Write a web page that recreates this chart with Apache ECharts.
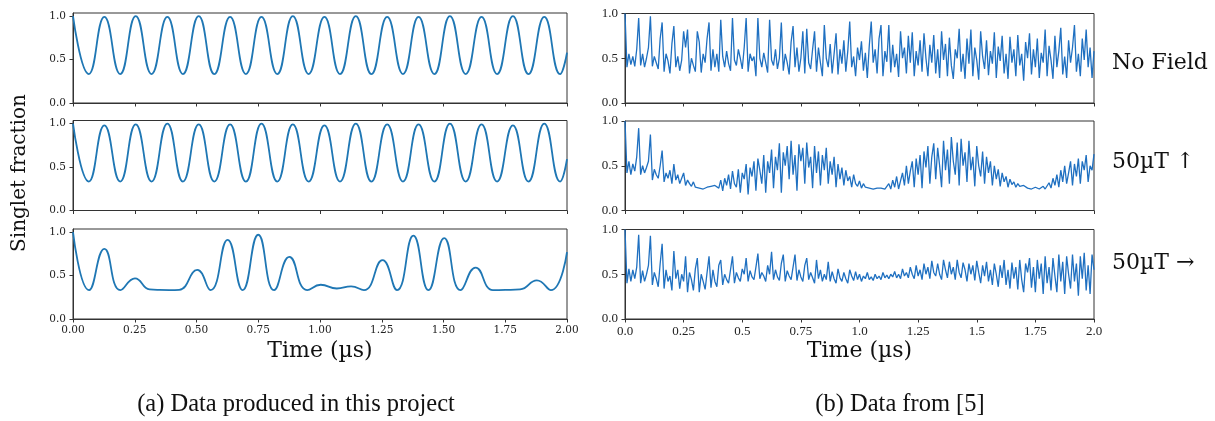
<!DOCTYPE html>
<html>
<head>
<meta charset="utf-8">
<title>Singlet fraction</title>
<script src="https://cdn.jsdelivr.net/npm/echarts@6/dist/echarts.min.js"></script>
<style>
  html, body { margin: 0; padding: 0; background: #fff; }
  #chart { width: 1215px; height: 421px; }
</style>
</head>
<body>
<div id="chart"></div>
<script>
// (a) simulated curves: turning points (µs, singlet fraction)
const simTime = [0, 0.064, 0.127, 0.191, 0.254, 0.318, 0.382, 0.445, 0.509, 0.572, 0.636, 0.700, 0.763, 0.827, 0.890, 0.954, 1.018,
  1.081, 1.145, 1.208, 1.272, 1.336, 1.399, 1.463, 1.526, 1.590, 1.654, 1.717, 1.781, 1.844, 1.908, 1.972, 2.0]
const simNoField = [1.0, 0.333, 0.99, 0.333, 1.0, 0.333, 0.99, 0.333, 1.0, 0.333, 0.99, 0.333, 0.99, 0.333, 1.0, 0.333, 0.99,
  0.333, 1.0, 0.333, 0.99, 0.333, 0.99, 0.333, 1.0, 0.333, 0.99, 0.333, 1.0, 0.333, 0.99, 0.333, 0.58]
const simUp = [1.0, 0.333, 0.98, 0.333, 0.99, 0.333, 1.0, 0.333, 0.99, 0.333, 0.99, 0.333, 1.0, 0.333, 0.99, 0.333, 0.98,
  0.333, 1.0, 0.333, 0.99, 0.333, 0.99, 0.333, 1.0, 0.333, 0.99, 0.333, 0.98, 0.333, 1.0, 0.333, 0.59]
const simSideTime = [0, 0.065, 0.127, 0.192, 0.251, 0.31, 0.35, 0.39, 0.43, 0.503, 0.557, 0.626, 0.687, 0.750, 0.814, 0.876, 0.948,
  1.003, 1.068, 1.126, 1.178, 1.253, 1.312, 1.378, 1.439, 1.503, 1.569, 1.630, 1.700, 1.75, 1.81, 1.878, 1.935, 2.0]
const simSide = [1.0, 0.332, 0.807, 0.332, 0.467, 0.34, 0.334, 0.333, 0.336, 0.564, 0.332, 0.911, 0.332, 0.969, 0.332, 0.714, 0.332,
  0.394, 0.351, 0.375, 0.332, 0.676, 0.332, 0.958, 0.332, 0.931, 0.332, 0.591, 0.332, 0.334, 0.34, 0.444, 0.332, 0.768]

// (b) data from [5]: 241 samples, 0 to 2 µs
const expStep = 2 / 240
const expNoField = [
  1.00, 0.40, 0.55, 0.43, 0.52, 0.41, 0.60, 0.95, 0.42, 0.55, 0.40, 0.50,
  0.62, 0.97, 0.41, 0.52, 0.45, 0.38, 0.72, 0.90, 0.35, 0.55, 0.47, 0.33,
  0.66, 0.86, 0.40, 0.52, 0.36, 0.48, 0.80, 0.62, 0.82, 0.33, 0.50, 0.42,
  0.35, 0.80, 0.68, 0.34, 0.55, 0.45, 0.72, 0.90, 0.36, 0.60, 0.40, 0.55,
  0.35, 0.93, 0.52, 0.40, 0.58, 0.44, 0.36, 0.95, 0.48, 0.42, 0.60, 0.50,
  0.38, 0.62, 0.95, 0.35, 0.55, 0.47, 0.52, 0.30, 0.95, 0.50, 0.40, 0.56,
  0.45, 0.34, 0.93, 0.48, 0.42, 0.60, 0.38, 0.50, 0.90, 0.36, 0.55, 0.45,
  0.32, 0.68, 0.86, 0.40, 0.62, 0.35, 0.50, 0.80, 0.33, 0.83, 0.45, 0.38,
  0.60, 0.80, 0.35, 0.62, 0.45, 0.30, 0.87, 0.50, 0.40, 0.66, 0.33, 0.55,
  0.78, 0.32, 0.60, 0.44, 0.70, 0.35, 0.58, 0.91, 0.40, 0.52, 0.30, 0.62,
  0.48, 0.69, 0.36, 0.56, 0.28, 0.64, 0.91, 0.45, 0.60, 0.33, 0.72, 0.87,
  0.30, 0.58, 0.46, 0.87, 0.34, 0.65, 0.40, 0.55, 0.29, 0.80, 0.50, 0.62,
  0.33, 0.75, 0.45, 0.79, 0.30, 0.58, 0.42, 0.70, 0.35, 0.78, 0.50, 0.30,
  0.65, 0.45, 0.76, 0.33, 0.60, 0.28, 0.80, 0.48, 0.66, 0.30, 0.73, 0.42,
  0.27, 0.60, 0.50, 0.83, 0.35, 0.55, 0.27, 0.72, 0.44, 0.82, 0.30, 0.62,
  0.48, 0.26, 0.80, 0.52, 0.38, 0.70, 0.31, 0.58, 0.44, 0.79, 0.28, 0.63,
  0.47, 0.75, 0.33, 0.55, 0.27, 0.74, 0.45, 0.60, 0.30, 0.76, 0.42, 0.55,
  0.25, 0.68, 0.50, 0.78, 0.32, 0.60, 0.40, 0.72, 0.28, 0.56, 0.45, 0.82,
  0.30, 0.64, 0.48, 0.27, 0.75, 0.40, 0.58, 0.84, 0.32, 0.52, 0.28, 0.70,
  0.45, 0.62, 0.87, 0.35, 0.55, 0.30, 0.72, 0.48, 0.82, 0.40, 0.62, 0.28,
  0.58
]
const expUp = [
  1.00, 0.42, 0.55, 0.40, 0.52, 0.44, 0.60, 0.92, 0.40, 0.50, 0.42, 0.48,
  0.55, 0.85, 0.34, 0.46, 0.40, 0.36, 0.50, 0.67, 0.32, 0.42, 0.36, 0.45,
  0.30, 0.52, 0.34, 0.40, 0.30, 0.36, 0.42, 0.28, 0.34, 0.30, 0.27, 0.32,
  0.26, 0.28, 0.25, 0.27, 0.24, 0.25, 0.26, 0.24, 0.27, 0.26, 0.28, 0.27,
  0.25, 0.34, 0.22, 0.36, 0.28, 0.40, 0.24, 0.44, 0.30, 0.26, 0.46, 0.20,
  0.42, 0.35, 0.52, 0.18, 0.48, 0.38, 0.55, 0.22, 0.58, 0.45, 0.30, 0.62,
  0.20, 0.55, 0.42, 0.68, 0.25, 0.60, 0.45, 0.75, 0.20, 0.65, 0.50, 0.72,
  0.35, 0.78, 0.40, 0.62, 0.22, 0.74, 0.55, 0.70, 0.30, 0.76, 0.48, 0.60,
  0.25, 0.72, 0.42, 0.66, 0.28, 0.62, 0.45, 0.70, 0.30, 0.55, 0.40, 0.60,
  0.26, 0.52, 0.35, 0.48, 0.28, 0.45, 0.33, 0.38, 0.26, 0.40, 0.30, 0.27,
  0.33, 0.25, 0.30, 0.26, 0.28, 0.25, 0.27, 0.24, 0.26, 0.25, 0.27, 0.25,
  0.26, 0.24, 0.25, 0.30, 0.24, 0.34, 0.26, 0.38, 0.24, 0.33, 0.42, 0.28,
  0.50, 0.30, 0.44, 0.55, 0.26, 0.58, 0.40, 0.62, 0.25, 0.66, 0.48, 0.72,
  0.30, 0.60, 0.75, 0.35, 0.70, 0.50, 0.26, 0.78, 0.45, 0.68, 0.30, 0.82,
  0.55, 0.40, 0.76, 0.28, 0.80, 0.50, 0.65, 0.32, 0.78, 0.45, 0.60, 0.27,
  0.72, 0.50, 0.38, 0.66, 0.30, 0.60, 0.42, 0.55, 0.28, 0.50, 0.35, 0.46,
  0.27, 0.42, 0.32, 0.38, 0.26, 0.35, 0.29, 0.32, 0.26, 0.30, 0.27, 0.25,
  0.28, 0.26, 0.25, 0.26, 0.24, 0.25, 0.26, 0.25, 0.24, 0.25, 0.27, 0.24,
  0.26, 0.31, 0.25, 0.36, 0.28, 0.40, 0.26, 0.45, 0.32, 0.50, 0.30, 0.42,
  0.55, 0.28, 0.52, 0.38, 0.58, 0.30, 0.55, 0.45, 0.62, 0.32, 0.50, 0.45,
  0.63
]
const expSide = [
  1.00, 0.40, 0.56, 0.42, 0.55, 0.45, 0.58, 0.94, 0.40, 0.54, 0.42, 0.50,
  0.60, 0.93, 0.38, 0.52, 0.45, 0.36, 0.62, 0.84, 0.34, 0.55, 0.42, 0.48,
  0.32, 0.76, 0.45, 0.55, 0.34, 0.50, 0.42, 0.70, 0.30, 0.52, 0.44, 0.32,
  0.56, 0.68, 0.30, 0.50, 0.42, 0.33, 0.52, 0.70, 0.35, 0.55, 0.42, 0.36,
  0.60, 0.66, 0.38, 0.50, 0.44, 0.40, 0.55, 0.70, 0.40, 0.52, 0.46, 0.42,
  0.56, 0.50, 0.68, 0.42, 0.54, 0.47, 0.44, 0.58, 0.73, 0.45, 0.52, 0.48,
  0.42, 0.60, 0.50, 0.75, 0.44, 0.55, 0.47, 0.43, 0.62, 0.72, 0.42, 0.54,
  0.48, 0.44, 0.58, 0.72, 0.43, 0.55, 0.47, 0.42, 0.60, 0.68, 0.44, 0.52,
  0.46, 0.40, 0.66, 0.45, 0.55, 0.42, 0.50, 0.44, 0.64, 0.42, 0.53, 0.45,
  0.40, 0.56, 0.46, 0.42, 0.52, 0.45, 0.40, 0.55, 0.48, 0.43, 0.53, 0.44,
  0.50, 0.42, 0.48, 0.45, 0.52, 0.44, 0.47, 0.43, 0.50, 0.45, 0.48, 0.44,
  0.52, 0.46, 0.49, 0.45, 0.50, 0.47, 0.53, 0.46, 0.50, 0.45, 0.56, 0.48,
  0.52, 0.46, 0.58, 0.50, 0.45, 0.60, 0.48, 0.55, 0.44, 0.62, 0.50, 0.58,
  0.45, 0.65, 0.52, 0.48, 0.62, 0.50, 0.44, 0.66, 0.55, 0.46, 0.64, 0.50,
  0.58, 0.44, 0.66, 0.52, 0.46, 0.63, 0.55, 0.42, 0.62, 0.50, 0.60, 0.43,
  0.65, 0.52, 0.40, 0.60, 0.48, 0.64, 0.42, 0.55, 0.38, 0.62, 0.50, 0.36,
  0.60, 0.46, 0.66, 0.38, 0.55, 0.34, 0.63, 0.45, 0.58, 0.33, 0.66, 0.44,
  0.30, 0.62, 0.52, 0.68, 0.35, 0.58, 0.30, 0.66, 0.45, 0.62, 0.28, 0.70,
  0.40, 0.58, 0.32, 0.68, 0.48, 0.30, 0.72, 0.42, 0.64, 0.28, 0.70, 0.50,
  0.34, 0.72, 0.42, 0.62, 0.26, 0.70, 0.45, 0.74, 0.32, 0.60, 0.28, 0.72,
  0.55
]

const xTicks = { min: 0, max: 2, interval: 0.25 }
const yTickValues = [0, 0.5, 1]
const rowLabels = ['No Field', '50µT ↑', '50µT →']

const leftX = 73
const leftW = 494
const rightX = 625
const rightW = 469
const leftTops = [13, 120.5, 229]
const rightTops = [13.5, 121, 229.5]
const axisColor = '#333'

let myChart = echarts.init(document.getElementById('chart'), null, { renderer: 'canvas' })

let grids = []
let xAxes = []
let yAxes = []
let series = []

function addPanel(left, width, top, height, yMax, showXLabel, xFormatter, lab, data, color, lineWidth) {
  let idx = grids.length
  grids.push({
    left: left, top: top, width: width, height: height,
    show: true, borderColor: axisColor, borderWidth: 1, containLabel: false
  })
  xAxes.push({
    gridIndex: idx, type: 'value', min: xTicks.min, max: xTicks.max, interval: xTicks.interval,
    axisLine: { show: true, onZero: false, lineStyle: { color: axisColor, width: 1 } },
    axisTick: { show: true, length: 3.5, lineStyle: { color: axisColor } },
    axisLabel: {
      show: showXLabel, margin: 6, color: '#222',
      fontFamily: lab.family, fontSize: lab.size, formatter: xFormatter
    },
    splitLine: { show: false }
  })
  yAxes.push({
    gridIndex: idx, type: 'value', min: 0, max: yMax,
    axisLine: { show: true, lineStyle: { color: axisColor, width: 1 } },
    axisTick: { show: true, length: 3.5, lineStyle: { color: axisColor }, customValues: yTickValues },
    axisLabel: {
      show: true, margin: lab.yMargin, color: '#222', fontFamily: lab.family, fontSize: lab.size,
      customValues: yTickValues, formatter: v => v.toFixed(1)
    },
    splitLine: { show: false }
  })
  series.push({
    type: 'line', xAxisIndex: idx, yAxisIndex: idx, data: data,
    showSymbol: false, symbol: 'none', smooth: lineWidth > 1.5, animation: false,
    lineStyle: { color: color, width: lineWidth }, clip: true
  })
}

const leftLab = { family: 'DejaVu Serif', size: 10.5, yMargin: 7 }
const rightLab = { family: 'Liberation Serif', size: 13, yMargin: 7 }
const fmtLeft = v => v.toFixed(2)
const fmtRight = v => (Math.round(v * 2) === v * 2 ? v.toFixed(1) : String(v))

const simSets = [
  simTime.map((t, k) => [t, simNoField[k]]),
  simTime.map((t, k) => [t, simUp[k]]),
  simSideTime.map((t, k) => [t, simSide[k]])
]
const expSets = [expNoField, expUp, expSide].map(arr => arr.map((v, i) => [i * expStep, v]))

for (let r = 0; r < 3; r++) {
  addPanel(leftX, leftW, leftTops[r], 90, 1.035, r === 2, fmtLeft, leftLab, simSets[r], '#1f77b4', 1.8)
}
for (let r = 0; r < 3; r++) {
  addPanel(rightX, rightW, rightTops[r], 89.5, 1, r === 2, fmtRight, rightLab, expSets[r], '#1f70c1', 1.3)
}

// 文字标注
let texts = [
  { x: 20, y: 173, rotation: Math.PI / 2, text: 'Singlet fraction', font: '20px "DejaVu Serif"' },
  { x: 320, y: 351, text: 'Time (µs)', font: '22px "DejaVu Serif"' },
  { x: 859.5, y: 351, text: 'Time (µs)', font: '22px "DejaVu Serif"' },
  { x: 296, y: 405, text: '(a) Data produced in this project', font: '24.5px "Liberation Serif"' },
  { x: 900, y: 405, text: '(b) Data from [5]', font: '24.5px "Liberation Serif"' }
]
let rowY = [63, 162, 263]
rowLabels.forEach((name, r) => {
  texts.push({ x: 1112, y: rowY[r], text: name, font: '22px "DejaVu Serif"', align: 'left' })
})

myChart.setOption({
  backgroundColor: '#fff',
  animation: false,
  grid: grids,
  xAxis: xAxes,
  yAxis: yAxes,
  series: series,
  graphic: texts.map(t => ({
    type: 'text',
    x: t.x,
    y: t.y,
    rotation: t.rotation || 0,
    style: {
      text: t.text,
      font: t.font,
      fill: '#111',
      align: t.align || 'center',
      verticalAlign: 'middle',
      textAlign: t.align || 'center',
      textVerticalAlign: 'middle'
    }
  }))
})
</script>
</body>
</html>
